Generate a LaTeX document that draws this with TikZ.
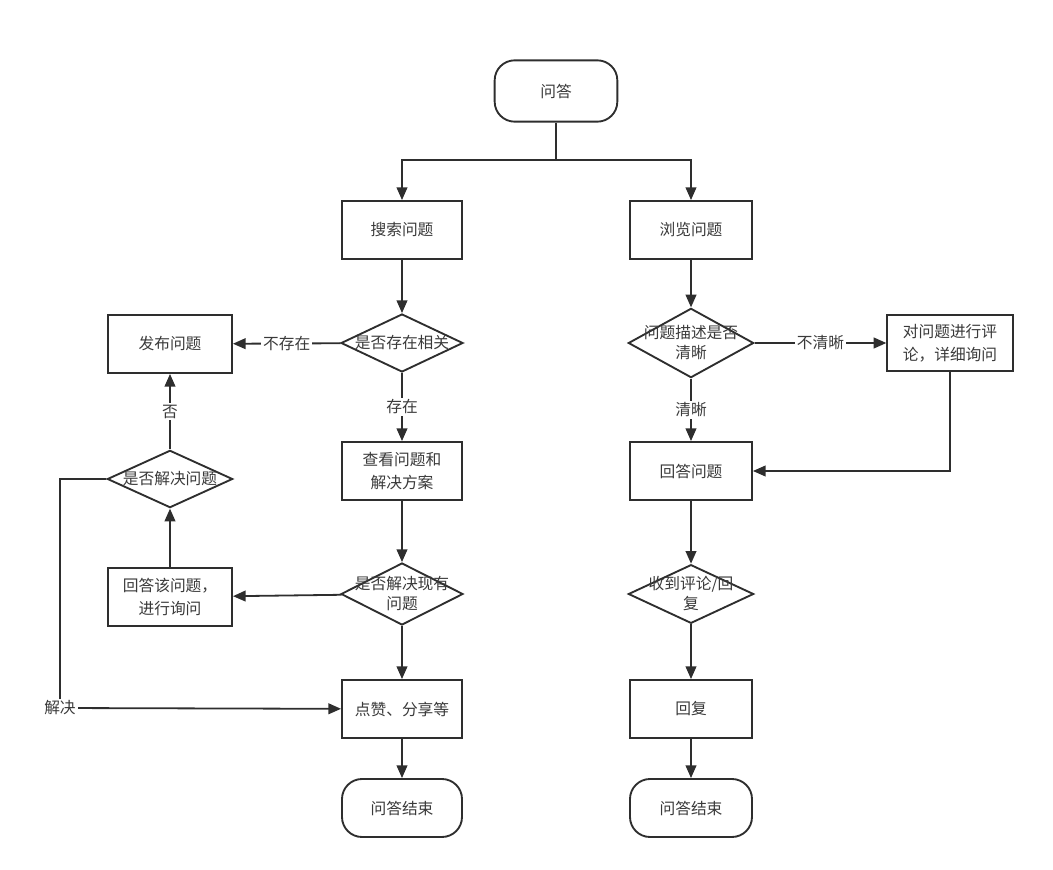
\documentclass[tikz,border=0pt]{standalone}
\usepackage{fontspec}
\setmainfont{Noto Sans CJK SC}
\usetikzlibrary{shapes.geometric,arrows.meta}
\definecolor{linec}{HTML}{2E2E2E}
\definecolor{textc}{HTML}{3A3A3A}
\begin{document}
\begin{tikzpicture}[x=0.75pt,y=-0.75pt,
  txt/.style={text=textc,font=\fontsize{11.8}{17}\selectfont,align=center},
  box/.style={txt,draw=linec,line width=1.4pt,fill=white,inner sep=0pt,
    minimum width=90pt,minimum height=43.5pt},
  term/.style={box,rounded corners=15pt},
  dia/.style={draw=linec,line width=1.4pt,fill=white,diamond,inner sep=0pt},
  lbl/.style={txt,fill=white,inner sep=1.5pt},
  flow/.style={draw=linec,line width=1.35pt,-{Triangle[length=9.5pt,width=8pt]}},
  plain/.style={draw=linec,line width=1.35pt}]
\useasboundingbox (0,0) rectangle (1053,870);

% start
\node[term,minimum width=92pt,minimum height=46pt] (start) at (556,91) {问答};
\coordinate (split) at (556,160);

% left column: searching
\node[box] (search) at (402,230) {搜索问题};
\node[dia,minimum width=91.5pt,minimum height=43.5pt] (d1) at (402,343) {};
\node[txt] at (d1) {是否存在相关};
\node[box,minimum width=93pt] (publish) at (170,344) {发布问题};
\node[box] (view) at (402,471) {查看问题和\\解决方案};
\node[dia,minimum width=91.5pt,minimum height=46.5pt] (d2) at (402,594) {};
\node[txt,font=\fontsize{11.8}{15}\selectfont] at (d2) {是否解决现有\\问题};
\node[box,minimum width=93pt] (askmore) at (170,597) {回答该问题，\\进行询问};
\node[dia,minimum width=94pt,minimum height=43pt] (d3) at (170,479) {};
\node[txt] at (d3) {是否解决问题};
\node[box] (like) at (402,709) {点赞、分享等};
\node[term] (end1) at (402,808) {问答结束};
\coordinate (bend) at (60,708);

% right column: browsing
\node[box,minimum width=91.5pt] (browse) at (691,230) {浏览问题};
\node[dia,minimum width=94pt,minimum height=52pt] (d4) at (691,343) {};
\node[txt,font=\fontsize{11.8}{15}\selectfont] at (d4) {问题描述是否\\清晰};
\node[box,minimum width=94pt,minimum height=42pt] (comment) at (950,343) {对问题进行评\\论，详细询问};
\node[box,minimum width=91.5pt] (answer) at (691,471) {回答问题};
\node[dia,minimum width=94pt,minimum height=44pt] (d5) at (691,594) {};
\node[txt,font=\fontsize{11.8}{15}\selectfont] at (d5) {收到评论/回\\复};
\node[box,minimum width=91.5pt] (reply) at (691,709) {回复};
\node[term,minimum width=91.5pt] (end2) at (691,808) {问答结束};

% connectors
\draw[plain] (start) -- (split);
\draw[flow] (split) -| (search);
\draw[flow] (split) -| (browse);

\draw[flow] (search) -- (d1);
\draw[flow] (d1) -- node[lbl]{不存在} (publish);
\draw[flow] (d1) -- node[lbl]{存在} (view);
\draw[flow] (view) -- (d2);
\draw[flow] (d2) -- (askmore);
\draw[flow] (d2) -- (like);
\draw[flow] (askmore) -- (d3);
\draw[flow] (d3) -- node[lbl]{否} (publish);
\draw[flow] (d3.west) -| (bend) node[lbl]{解决} -- (like);
\draw[flow] (like) -- (end1);

\draw[flow] (browse) -- (d4);
\draw[flow] (d4) -- node[lbl]{不清晰} (comment);
\draw[flow] (d4) -- node[lbl]{清晰} (answer);
\draw[flow] (comment) |- (answer);
\draw[flow] (answer) -- (d5);
\draw[flow] (d5) -- (reply);
\draw[flow] (reply) -- (end2);
\end{tikzpicture}
\end{document}
